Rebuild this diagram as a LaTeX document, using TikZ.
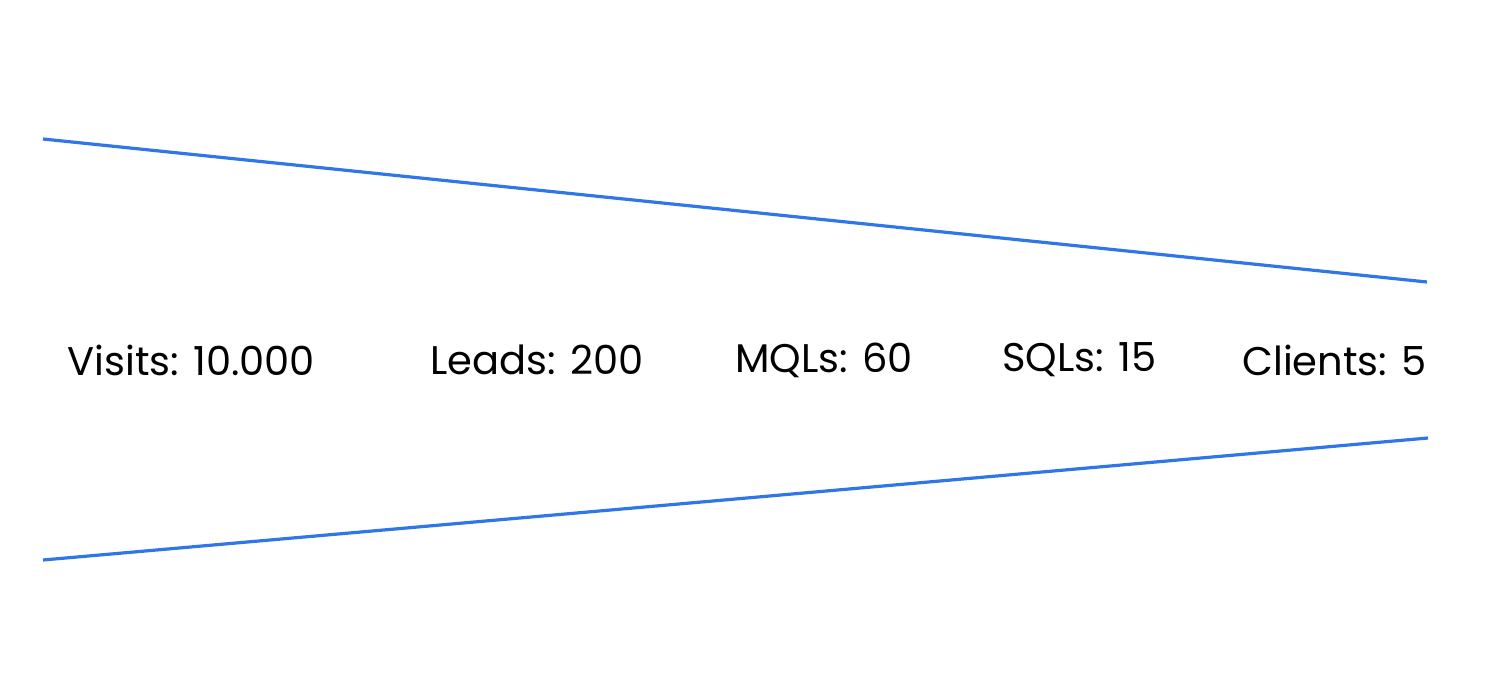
\documentclass[tikz,border=0pt]{standalone}
\usepackage{fontspec}
\setmainfont{Poppins}
\definecolor{funnel}{HTML}{2F76E8}
\begin{document}
\begin{tikzpicture}[x=0.5pt,y=-0.5pt,
  edge/.style={draw=funnel,line width=1.6pt},
  lab/.style={anchor=west,inner sep=0pt,font=\fontsize{20}{24}\selectfont}]
\useasboundingbox (0,0) rectangle (1500,700);
\coordinate (t1) at (43,139); \coordinate (t2) at (1427,282);
\coordinate (b1) at (43,560); \coordinate (b2) at (1428,438);
\draw[edge] (t1) -- (t2);
\draw[edge] (b1) -- (b2);
\node[lab] (v) at (67,360) {Visits: 10.000};
\node[lab] (l) at (430,360) {Leads: 200};
\node[lab] (m) at (735,360) {MQLs: 60};
\node[lab] (s) at (1002,360) {SQLs: 15};
\node[lab,anchor=east] (c) at (1427,360) {Clients: 5};
\end{tikzpicture}
\end{document}
